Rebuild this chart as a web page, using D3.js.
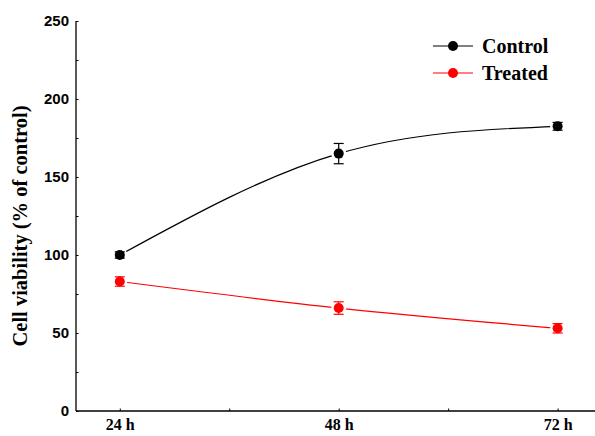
<!DOCTYPE html>
<html><head><meta charset="utf-8">
<script src="https://cdn.jsdelivr.net/npm/d3@7"></script>
<style>body{margin:0;background:#fff}</style>
</head><body>
<svg id="c" width="595" height="436"></svg>
<script>
const hours = [24, 48, 72];
const xTickLabels = ["24 h", "48 h", "72 h"];
const controlMean = [100, 165, 182.5];
const controlErr = [2, 6.5, 2.5];
const treatedMean = [83, 66, 53];
const treatedErr = [3, 4, 3];
const yTicks = [0, 50, 100, 150, 200, 250];
const yMinor = [25, 75, 125, 175, 225];
const xMinor = [36, 60];
const seriesNames = ["Control", "Treated"];
const seriesColors = ["#000000", "#ff0000"];

const svg = d3.select("#c");
const x = d3.scaleLinear().domain([19.2, 76.1]).range([76, 595]);
const y = d3.scaleLinear().domain([0, 250]).range([411, 21]);

const g = svg.append("g");
const yAxis = d3.axisLeft(y).tickValues(yTicks).tickSize(-2.5).tickPadding(7).tickFormat(d3.format("d"));
const ya = g.append("g").attr("transform","translate(76,0)").call(yAxis);
ya.select(".domain").attr("stroke","#000").attr("stroke-width",1.3).attr("d","M0,"+y(250)+"V"+y(0));
ya.selectAll("text").attr("font-family","'Liberation Sans', Arial, sans-serif").attr("font-weight","bold").attr("font-size",15).attr("fill","#000");
g.append("g").attr("transform","translate(76,0)").call(d3.axisLeft(y).tickValues(yMinor).tickSize(-2.5).tickFormat(""))
  .select(".domain").remove();

const xAxis = d3.axisBottom(x).tickValues(hours).tickSize(-2.5).tickPadding(8).tickFormat((d,i)=>xTickLabels[i]);
const xa = g.append("g").attr("transform","translate(0,411)").call(xAxis);
xa.select(".domain").attr("stroke","#000").attr("stroke-width",1.3).attr("d","M76,0H595");
xa.selectAll("text").attr("font-family","'Liberation Serif', 'Times New Roman', serif").attr("font-weight","bold").attr("font-size",16).attr("fill","#000");
g.append("g").attr("transform","translate(0,411)").call(d3.axisBottom(x).tickValues(xMinor).tickSize(-2.5).tickFormat(""))
  .select(".domain").remove();

svg.append("text").attr("transform","translate(27,226) rotate(-90)").attr("text-anchor","middle")
  .attr("font-family","'Liberation Serif', 'Times New Roman', serif").attr("font-weight","bold").attr("font-size",20.5)
  .text("Cell viability (% of control)");

const series = [
  {name: seriesNames[0], color: seriesColors[0], mean: controlMean, err: controlErr},
  {name: seriesNames[1], color: seriesColors[1], mean: treatedMean, err: treatedErr}
];

series.forEach(s => {
  const pts = hours.map((h,i)=>({h, m:s.mean[i], e:s.err[i]}));
  const line = d3.line().x(d=>x(d.h)).y(d=>y(d.m)).curve(d3.curveNatural);
  g.append("path").datum(pts).attr("d",line).attr("fill","none").attr("stroke",s.color).attr("stroke-width",1.2);
  g.selectAll(null).data(pts).enter().append("circle")
    .attr("cx",d=>x(d.h)).attr("cy",d=>y(d.m)).attr("r",7.5).attr("fill","#fff");
  const eb = g.append("g").attr("stroke",s.color).attr("stroke-width",1.2);
  pts.forEach(d=>{
    eb.append("line").attr("x1",x(d.h)).attr("x2",x(d.h)).attr("y1",y(d.m+d.e)).attr("y2",y(d.m-d.e));
    eb.append("line").attr("x1",x(d.h)-5).attr("x2",x(d.h)+5).attr("y1",y(d.m+d.e)).attr("y2",y(d.m+d.e));
    eb.append("line").attr("x1",x(d.h)-5).attr("x2",x(d.h)+5).attr("y1",y(d.m-d.e)).attr("y2",y(d.m-d.e));
  });
  g.selectAll(null).data(pts).enter().append("circle")
    .attr("cx",d=>x(d.h)).attr("cy",d=>y(d.m)).attr("r",5).attr("fill",s.color);
});

const leg = svg.append("g");
series.forEach((s,i)=>{
  const yy = 46 + i*27;
  leg.append("line").attr("x1",433).attr("x2",473).attr("y1",yy).attr("y2",yy).attr("stroke",s.color).attr("stroke-width",1.2);
  leg.append("circle").attr("cx",453).attr("cy",yy).attr("r",5).attr("fill",s.color);
  leg.append("text").attr("x",482).attr("y",yy+6.5).attr("font-family","'Liberation Serif', 'Times New Roman', serif")
    .attr("font-weight","bold").attr("font-size",20).attr("fill","#000").text(s.name);
});
</script>
</body></html>
